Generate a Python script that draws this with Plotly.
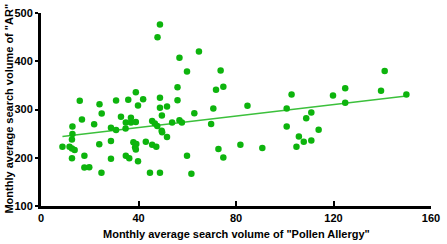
import plotly.graph_objects as go

# Monthly average search volume of "Pollen Allergy" (x) vs "AR" (y)
pollen = [15.9, 24.0, 30.8, 35.8, 38.9, 41.9, 39.8, 48.8, 48.8, 49.6,
          24.9, 16.8, 21.8, 12.9, 12.9, 12.7, 8.8, 11.7, 12.7, 13.8,
          12.7, 17.8, 17.8, 19.8, 24.8, 23.9, 28.7, 28.7, 28.7, 30.8,
          32.8, 34.8, 36.9, 36.9, 38.9, 34.7, 37.9, 39.1, 38.6, 38.9,
          43.0, 34.8, 36.2, 39.8, 45.6, 47.3, 44.7, 48.8, 45.6, 46.7,
          47.7, 49.5, 49.7, 48.8, 47.8,
          51.7, 56.0, 53.8, 56.8, 57.8, 51.7, 56.0, 56.8, 64.8, 59.9,
          73.7, 71.8, 74.8, 70.7, 62.9, 84.7, 69.8, 59.9, 61.7, 72.8,
          74.8, 81.8, 90.8,
          100.8, 102.8, 119.8, 124.8, 124.8, 139.5, 141.0, 149.9, 110.9, 108.8,
          100.8, 113.9, 105.8, 107.8, 110.9, 104.8]
ar = [318, 311, 318.5, 320, 336, 321, 308.5, 324.5, 303.6, 287.5,
      291.6, 279.5, 269.5, 264.8, 249.4, 238, 222.6, 222.6, 219, 216,
      199, 204, 180, 180.4, 169, 228, 234.7, 198, 262, 257.4,
      285, 273, 283, 273, 274.3, 260.8, 232, 228.6, 222, 217,
      233, 204, 199, 192.5, 227.2, 222.6, 169, 169, 276, 271,
      266, 256, 252.8, 476, 450,
      306, 319, 273, 277.5, 273, 243, 346, 407.5, 420, 379,
      381, 341, 347, 302, 292, 308, 270, 204, 167, 218,
      200.5, 227, 220,
      302, 331, 329, 344, 314, 339, 380, 331, 294, 282,
      265, 258, 244, 233, 236, 223]

# Linear trend line at its two ends
fit_x = [8.8, 149.9]
fit_y = [244, 328]

x_ticks = [0, 40, 80, 120, 160]
y_ticks = [100, 200, 300, 400, 500]

font_family = "Liberation Sans, Arial, sans-serif"

fig = go.Figure()
fig.add_trace(go.Scatter(
    x=fit_x, y=fit_y, mode="lines",
    line=dict(color="#3cc03c", width=1.6),
    hoverinfo="skip", showlegend=False))
fig.add_trace(go.Scatter(
    x=pollen, y=ar, mode="markers",
    marker=dict(color="#0db40d", size=6.5, line=dict(width=0)),
    showlegend=False))

fig.update_layout(
    width=447, height=244,
    margin=dict(l=41, r=12, t=7, b=38),
    paper_bgcolor="white", plot_bgcolor="white",
    font=dict(family=font_family, size=11, color="black", weight="bold"),
    xaxis=dict(range=[0, 160], tickvals=x_ticks, showgrid=False, zeroline=False,
               showline=True, linecolor="black", linewidth=3,
               ticks="inside", ticklen=5, tickwidth=2, tickcolor="black",
               tickfont=dict(family=font_family, size=11, weight="bold")),
    yaxis=dict(range=[100, 500], tickvals=y_ticks, showgrid=False, zeroline=False,
               showline=True, linecolor="black", linewidth=3,
               ticks="outside", ticklen=3, tickwidth=2, tickcolor="black",
               tickfont=dict(family=font_family, size=11, weight="bold")),
    annotations=[
        dict(text='Monthly average search volume of "Pollen Allergy"',
             xref="paper", yref="paper", x=0.5, y=-0.145,
             xanchor="center", yanchor="middle", showarrow=False,
             font=dict(family=font_family, size=11, weight="bold")),
        dict(text='Monthly average search volume of "AR"',
             xref="paper", yref="paper", x=-0.082, y=0.505,
             xanchor="center", yanchor="middle", showarrow=False, textangle=-90,
             font=dict(family=font_family, size=11, weight="bold")),
    ],
)

fig.write_html("out.html",
               config={"displayModeBar": False},
               post_script="document.body.style.margin='0';document.body.style.overflow='hidden';")
